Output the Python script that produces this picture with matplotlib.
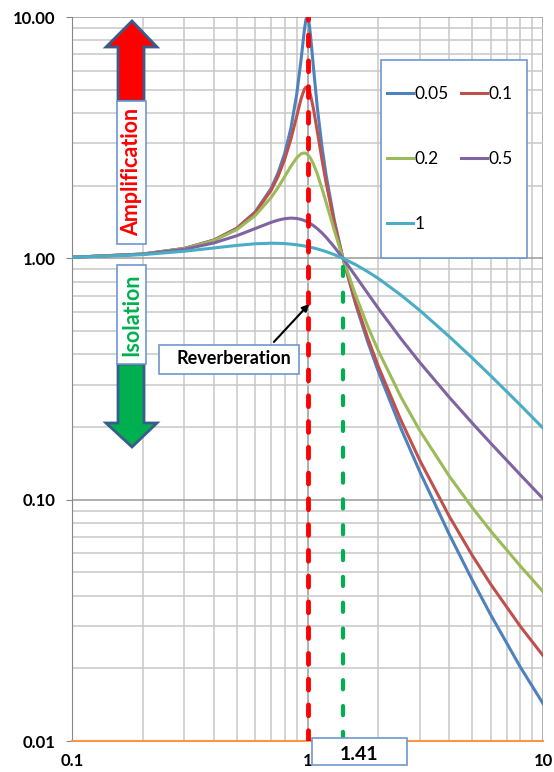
import matplotlib
matplotlib.use('Agg')
import matplotlib.pyplot as plt
from matplotlib.patches import Rectangle, Polygon
from matplotlib.ticker import FixedLocator, FixedFormatter, NullFormatter, LogLocator

plt.rcParams['font.family'] = ['Lato', 'DejaVu Sans']

# frequency ratio
ratio = [0.1, 0.2, 0.3, 0.4, 0.5, 0.6, 0.7, 0.75, 0.8, 0.85, 0.9, 0.94, 0.97, 0.985, 1.0,
         1.015, 1.03, 1.06, 1.1, 1.15, 1.2, 1.3, 1.41, 1.6, 1.8, 2.0, 2.5, 3.0, 4.0, 5.0,
         6.0, 8.0, 10.0]

# transmissibility for each damping ratio
t_005 = [1.010, 1.042, 1.099, 1.190, 1.332, 1.559, 1.947, 2.259, 2.720, 3.458, 4.78, 6.71,
         8.85, 9.77, 10.05, 9.49, 8.40, 6.17, 4.24, 2.940, 2.208, 1.436, 1.012, 0.646, 0.452,
         0.339, 0.196, 0.1304, 0.0718, 0.0466, 0.0333, 0.0203, 0.0143]
t_01 = [1.010, 1.042, 1.099, 1.189, 1.328, 1.547, 1.909, 2.186, 2.571, 3.117, 3.882, 4.602,
        5.023, 5.116, 5.099, 4.972, 4.753, 4.166, 3.367, 2.590, 2.052, 1.401, 1.011, 0.659,
        0.469, 0.356, 0.212, 0.1454, 0.0853, 0.0589, 0.0446, 0.0299, 0.0226]
t_02 = [1.010, 1.041, 1.097, 1.184, 1.314, 1.505, 1.785, 1.968, 2.180, 2.407, 2.611, 2.714,
        2.733, 2.720, 2.693, 2.651, 2.597, 2.459, 2.241, 1.959, 1.704, 1.305, 1.009, 0.704,
        0.524, 0.413, 0.265, 0.1931, 0.1251, 0.0929, 0.0741, 0.0532, 0.0416]
t_05 = [1.010, 1.040, 1.090, 1.158, 1.240, 1.329, 1.409, 1.440, 1.460, 1.468, 1.463, 1.449,
        1.434, 1.424, 1.414, 1.403, 1.391, 1.366, 1.328, 1.276, 1.222, 1.114, 1.004, 0.844,
        0.717, 0.620, 0.463, 0.370, 0.2656, 0.2080, 0.1713, 0.1270, 0.1010]
t_1 = [1.010, 1.036, 1.070, 1.104, 1.131, 1.149, 1.155, 1.154, 1.151, 1.145, 1.138, 1.131,
       1.125, 1.121, 1.118, 1.115, 1.111, 1.104, 1.094, 1.080, 1.066, 1.036, 1.001, 0.942,
       0.881, 0.825, 0.703, 0.608, 0.474, 0.387, 0.326, 0.247, 0.198]

series = [('0.05', t_005, '#4F81BD'), ('0.1', t_01, '#C0504D'), ('0.2', t_02, '#9BBB59'),
          ('0.5', t_05, '#8064A2'), ('1', t_1, '#4BACC6')]

W, H = 554, 772
fig = plt.figure(figsize=(W / 100, H / 100), dpi=100)
ax = fig.add_axes([72 / W, 1 - 741 / H, (543 - 72) / W, (741 - 17) / H])


def P(x, y):
    # pixel position (top-left origin) -> figure fraction
    return (x / W, 1 - y / H)


ax.set_xscale('log')
ax.set_yscale('log')
ax.set_xlim(0.1, 10)
ax.set_ylim(0.01, 10)

ax.xaxis.set_major_locator(FixedLocator([0.1, 1, 10]))
ax.xaxis.set_major_formatter(FixedFormatter(['0.1', '1', '10']))
ax.yaxis.set_major_locator(FixedLocator([0.01, 0.1, 1, 10]))
ax.yaxis.set_major_formatter(FixedFormatter(['0.01', '0.10', '1.00', '10.00']))
ax.xaxis.set_minor_locator(LogLocator(base=10, subs=range(2, 10)))
ax.yaxis.set_minor_locator(LogLocator(base=10, subs=range(2, 10)))
ax.xaxis.set_minor_formatter(NullFormatter())
ax.yaxis.set_minor_formatter(NullFormatter())

ax.grid(which='major', color='#9A9A9A', lw=1.1)
ax.grid(which='minor', color='#C8C8C8', lw=1.1)
ax.set_axisbelow(True)

ax.tick_params(axis='x', which='both', length=0, pad=9, labelsize=12)
ax.tick_params(axis='y', which='major', length=4, color='#868686', pad=8, labelsize=12)
ax.tick_params(axis='y', which='minor', length=0)
for lab in ax.get_xticklabels() + ax.get_yticklabels():
    lab.set_fontweight('bold')

ax.spines['top'].set_visible(False)
ax.spines['right'].set_visible(False)
ax.spines['left'].set_color('#868686')
ax.spines['bottom'].set_color('#F79646')
ax.spines['bottom'].set_linewidth(1.5)

handles = {}
for name, vals, col in series:
    ln, = ax.plot(ratio, vals, color=col, lw=2.2, label=name, zorder=3)
    handles[name] = ln

# resonance and crossover markers
ax.plot([1, 1], [0.01, 10], color='#FF0000', lw=3.5, dashes=(2.2, 3.1),
        dash_capstyle='round', zorder=4)
ax.plot([1.41, 1.41], [0.01, 1.0], color='#00B050', lw=3.0, dashes=(2.2, 4.0),
        dash_capstyle='round', zorder=4)

# legend box
box_col = '#6F97D0'
ax.add_patch(Rectangle(P(381, 258), 146 / W, 198 / H, transform=fig.transFigure,
                       facecolor='white', edgecolor=box_col, lw=1.2, zorder=5, clip_on=False))
order = ['0.05', '0.2', '1', '0.1', '0.5']
leg = ax.legend([handles[k] for k in order], order, ncol=2, frameon=False,
                loc='center', bbox_to_anchor=P(450, 159), bbox_transform=fig.transFigure,
                fontsize=12.5, labelspacing=2.8, handlelength=1.5, handletextpad=0.1,
                columnspacing=0.7)
leg.set_zorder(6)

# amplification / isolation arrows
edge = '#385D8A'
up = [(132, 21), (157, 47), (144, 47), (144, 101), (118, 101), (118, 47), (106, 47)]
down = [(118, 364), (144, 364), (144, 423), (157, 423), (132, 447), (106, 423), (118, 423)]
ax.add_patch(Polygon([P(*p) for p in up], closed=True, transform=fig.transFigure,
                     facecolor='#FF0000', edgecolor=edge, lw=2, zorder=6, clip_on=False))
ax.add_patch(Polygon([P(*p) for p in down], closed=True, transform=fig.transFigure,
                     facecolor='#00B050', edgecolor=edge, lw=2, zorder=6, clip_on=False))


def label_box(x0, y0, x1, y1, text, tx, ty, color='black', rot=0, size=11):
    ax.add_patch(Rectangle(P(x0, y1), (x1 - x0) / W, (y1 - y0) / H, transform=fig.transFigure,
                           facecolor='white', edgecolor=box_col, lw=1.2, zorder=7,
                           clip_on=False))
    ax.text(*P(tx, ty), text, transform=fig.transFigure, ha='center', va='center',
            rotation=rot, color=color, fontsize=size, fontweight='bold', zorder=8)


label_box(117, 101, 146, 244, 'Amplification', 132, 172, color='#FF0000', rot=90, size=15.5)
label_box(117, 265, 146, 364, 'Isolation', 132, 315, color='#00B050', rot=90, size=15.5)
label_box(159, 345, 299, 374, 'Reverberation', 234, 359, size=13)
label_box(312, 738, 407, 765, '1.41', 359, 754, size=14)

ax.annotate('', xy=P(311, 302), xytext=P(272, 344), xycoords='figure fraction',
            textcoords='figure fraction',
            arrowprops=dict(arrowstyle='-|>', color='black', lw=1.5, mutation_scale=10),
            zorder=8)

fig.savefig('out.png', dpi=100)
